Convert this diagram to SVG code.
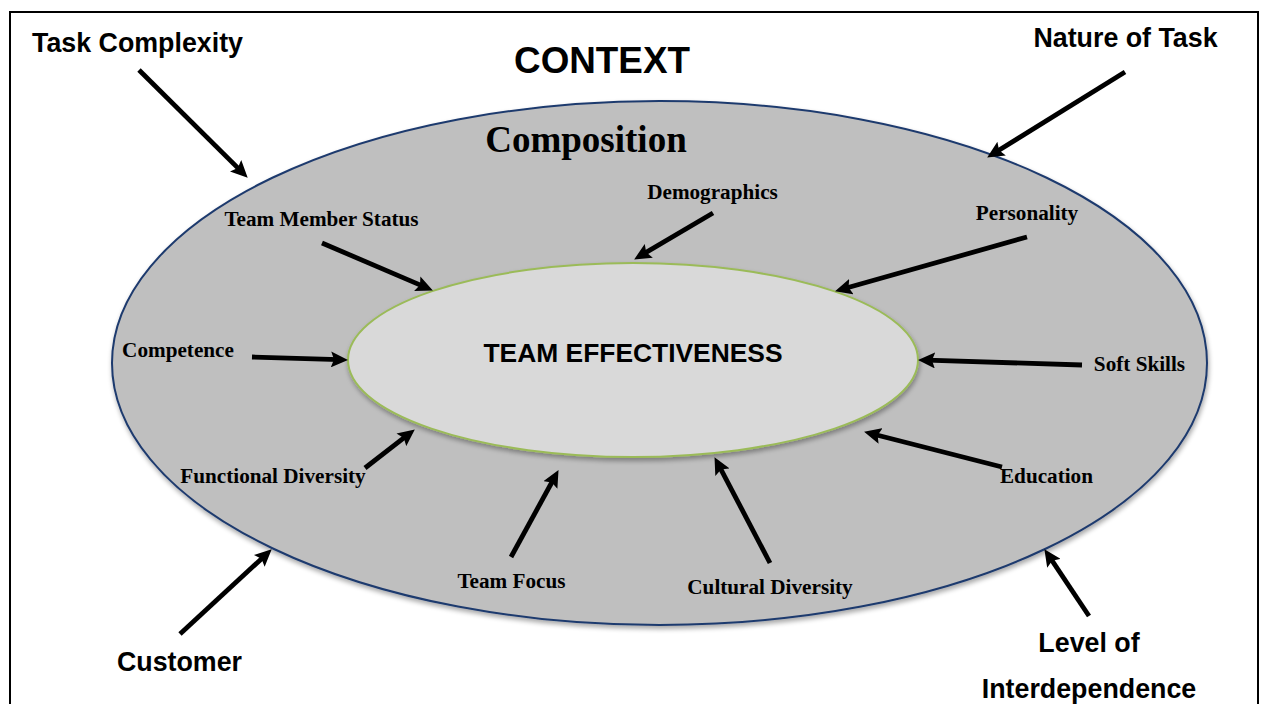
<svg xmlns="http://www.w3.org/2000/svg" width="1266" height="704" viewBox="0 0 1266 704">
  <style>
    .sans { font-family: "Liberation Sans", Arial, sans-serif; font-weight: bold; fill: #000; }
    .serif { font-family: "Liberation Serif", "Times New Roman", serif; font-weight: bold; fill: #000; }
    .factor { font-size: 21.2px; text-anchor: middle; }
    .outer-label { font-size: 26.8px; text-anchor: middle; }
    .arrow { stroke: #000; stroke-width: 4.8; fill: none; marker-end: url(#head); }
  </style>
  <defs>
    <marker id="head" markerUnits="userSpaceOnUse" markerWidth="18" markerHeight="16" refX="8" refY="8" orient="auto" viewBox="0 0 18 16">
      <path d="M0,0 L17,8 L0,16 L3,8 Z" fill="#000"/>
    </marker>
    <filter id="shadow" x="-10%" y="-10%" width="120%" height="130%">
      <feGaussianBlur in="SourceAlpha" stdDeviation="2.5"/>
      <feOffset dx="1" dy="3" result="blur"/>
      <feComponentTransfer><feFuncA type="linear" slope="0.35"/></feComponentTransfer>
      <feMerge><feMergeNode/><feMergeNode in="SourceGraphic"/></feMerge>
    </filter>
  </defs>

  <rect x="0" y="0" width="1266" height="704" fill="#fff"/>
  <!-- page frame -->
  <rect id="frame" x="10" y="12" width="1248" height="720" fill="none" stroke="#000" stroke-width="2"/>

  <g id="context">
    <text class="sans" x="602" y="73" font-size="36.8" text-anchor="middle">CONTEXT</text>
  </g>

  <g id="composition">
    <ellipse cx="659.5" cy="363" rx="547.5" ry="262" fill="#bfbfbf" stroke="#1f3a6e" stroke-width="2" filter="url(#shadow)"/>
    <text class="serif" x="586" y="152" font-size="37" text-anchor="middle">Composition</text>
  </g>

  <g id="team-effectiveness">
    <ellipse cx="633" cy="360" rx="285" ry="97" fill="#d9d9d9" stroke="#9bbb59" stroke-width="2" filter="url(#shadow)"/>
    <text class="sans" x="633" y="362" font-size="26.4" text-anchor="middle">TEAM EFFECTIVENESS</text>
  </g>

  <!-- context factors -->
  <g id="task-complexity"><text class="sans outer-label" x="137.5" y="52">Task Complexity</text></g>
  <g id="nature-of-task"><text class="sans outer-label" x="1125.5" y="47">Nature of Task</text></g>
  <g id="customer"><text class="sans outer-label" x="179.5" y="671">Customer</text></g>
  <g id="level-of-interdependence">
    <text class="sans outer-label" x="1089" y="652">Level of</text>
    <text class="sans outer-label" x="1089" y="698">Interdependence</text>
  </g>

  <!-- composition factors -->
  <g id="demographics"><text class="serif factor" x="712.5" y="199">Demographics</text></g>
  <g id="team-member-status"><text class="serif factor" x="321.5" y="226">Team Member Status</text></g>
  <g id="personality"><text class="serif factor" x="1027" y="220">Personality</text></g>
  <g id="competence"><text class="serif factor" x="178" y="357">Competence</text></g>
  <g id="soft-skills"><text class="serif factor" x="1139.5" y="371">Soft Skills</text></g>
  <g id="functional-diversity"><text class="serif factor" x="273" y="483">Functional Diversity</text></g>
  <g id="education"><text class="serif factor" x="1046.5" y="483">Education</text></g>
  <g id="team-focus"><text class="serif factor" x="511.5" y="588">Team Focus</text></g>
  <g id="cultural-diversity"><text class="serif factor" x="770" y="594">Cultural Diversity</text></g>

  <g id="connectors">
    <line class="arrow" x1="139" y1="70" x2="241.3" y2="171.4"/>
    <line class="arrow" x1="1125" y1="72" x2="994.8" y2="152.8"/>
    <line class="arrow" x1="180" y1="634" x2="265.1" y2="555.4"/>
    <line class="arrow" x1="1089" y1="616" x2="1049.4" y2="556.7"/>
    <line class="arrow" x1="713" y1="213" x2="641.9" y2="254.9"/>
    <line class="arrow" x1="322" y1="243" x2="424.6" y2="286.9"/>
    <line class="arrow" x1="1027" y1="237" x2="843.7" y2="288.8"/>
    <line class="arrow" x1="252" y1="357" x2="339" y2="359.7"/>
    <line class="arrow" x1="1082" y1="365" x2="927" y2="360.2"/>
    <line class="arrow" x1="365" y1="468" x2="407.7" y2="434.9"/>
    <line class="arrow" x1="1002" y1="467" x2="872.8" y2="434"/>
    <line class="arrow" x1="511" y1="557" x2="554.2" y2="478"/>
    <line class="arrow" x1="770" y1="563" x2="718.7" y2="465.1"/>
  </g>
</svg>
